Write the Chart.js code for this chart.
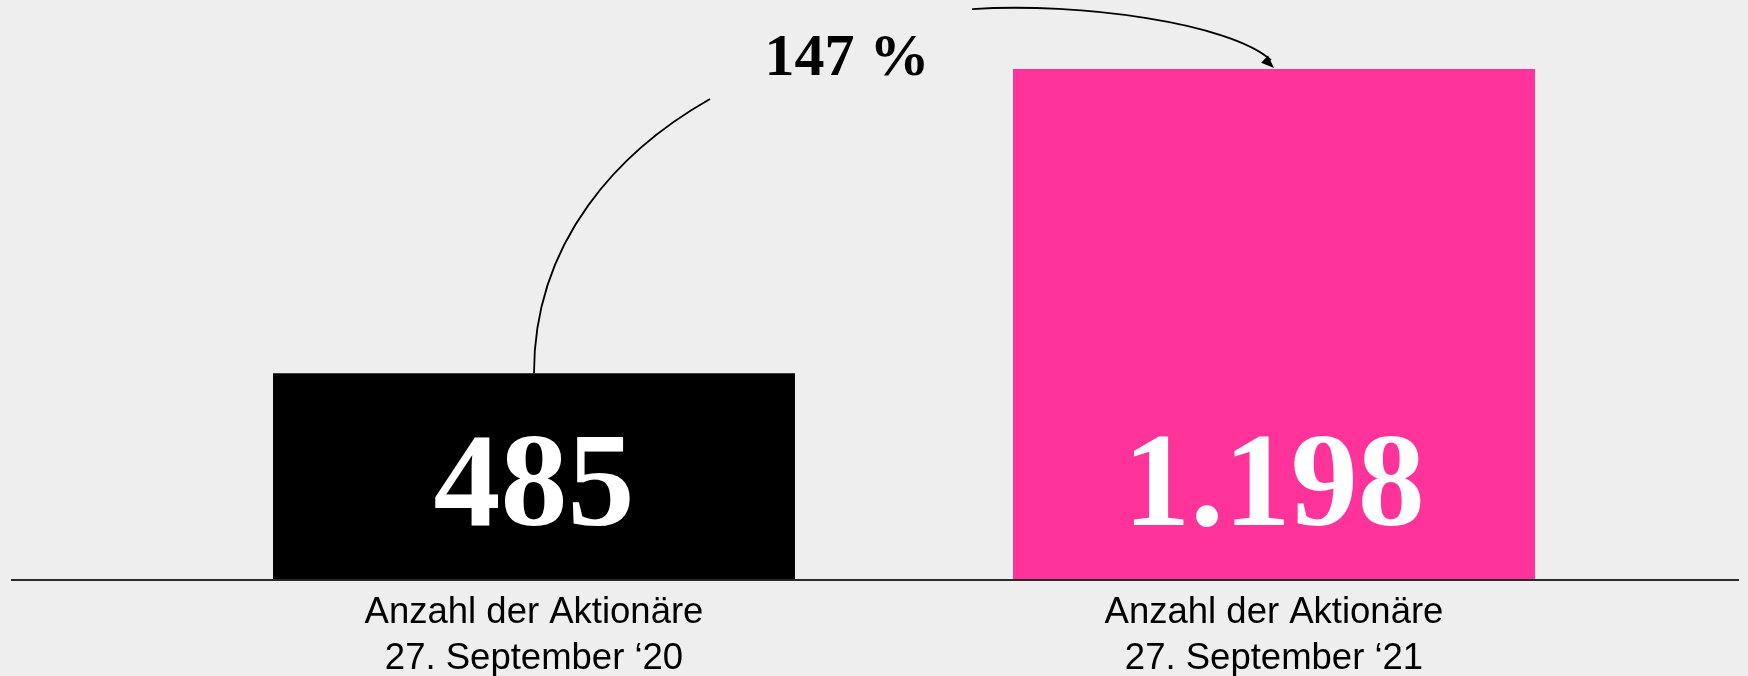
<!DOCTYPE html>
<html>
<head>
<meta charset="utf-8">
<script src="https://cdn.jsdelivr.net/npm/chart.js@4"></script>
<style>
  html, body { margin: 0; padding: 0; background: #eeeeee; }
  #wrap { width: 1748px; height: 676px; }
</style>
</head>
<body>
<div id="wrap"><canvas id="chart" width="1748" height="676"></canvas></div>
<script>
// data
const categories = [
    ['Anzahl der Aktionäre', '27. September ‘20'],
    ['Anzahl der Aktionäre', '27. September ‘21']
];
const shareholders = [485, 1198];
const barColors = ['#000000', '#ff3399'];

// German thousands separator, e.g. 1198 -> "1.198"
function formatDE(n) {
    return String(n).replace(/\B(?=(\d{3})+(?!\d))/g, '.');
}

// baseline across the whole page + value labels inside bars
const baselinePlugin = {
    id: 'baseline',
    afterDatasetsDraw(chart) {
        const ctx = chart.ctx;
        const y0 = chart.scales.y.getPixelForValue(0);
        ctx.save();
        ctx.strokeStyle = '#2a2a2a';
        ctx.lineWidth = 2;
        ctx.beginPath();
        ctx.moveTo(11, y0);
        ctx.lineTo(1739, y0);
        ctx.stroke();

        const meta = chart.getDatasetMeta(0);
        ctx.fillStyle = '#ffffff';
        ctx.font = 'bold 134px "Liberation Serif", "Times New Roman", serif';
        ctx.textAlign = 'center';
        ctx.textBaseline = 'alphabetic';
        meta.data.forEach((bar, i) => {
            ctx.fillText(formatDE(shareholders[i]), bar.x, y0 - 55);
        });
        ctx.restore();
    }
};

// growth annotation: curve from bar 1 to bar 2 with arrow and percentage
const growthPlugin = {
    id: 'growth',
    afterDraw(chart) {
        const ctx = chart.ctx;
        const meta = chart.getDatasetMeta(0);
        const a = meta.data[0], b = meta.data[1];
        const growth = Math.round((shareholders[1] / shareholders[0] - 1) * 100);

        ctx.save();
        ctx.strokeStyle = '#000';
        ctx.fillStyle = '#000';
        ctx.lineWidth = 1.8;

        // rising curve out of the first bar
        ctx.beginPath();
        ctx.moveTo(a.x, a.y);
        ctx.bezierCurveTo(a.x, a.y - 133, a.x + 86, b.y + 81, a.x + 176, b.y + 30);
        ctx.stroke();

        // curve into the second bar
        const tipX = b.x, tipY = b.y - 1;
        ctx.beginPath();
        ctx.moveTo(b.x - 302, b.y - 60);
        ctx.bezierCurveTo(b.x - 194, b.y - 67, b.x - 44, b.y - 46, tipX - 3, tipY - 8);
        ctx.stroke();

        // arrow head
        const ang = Math.atan2(38, 40);
        const len = 13, half = 5;
        ctx.beginPath();
        ctx.moveTo(tipX, tipY);
        ctx.lineTo(tipX - len * Math.cos(ang) + half * Math.sin(ang), tipY - len * Math.sin(ang) - half * Math.cos(ang));
        ctx.lineTo(tipX - len * Math.cos(ang) - half * Math.sin(ang), tipY - len * Math.sin(ang) + half * Math.cos(ang));
        ctx.closePath();
        ctx.fill();

        ctx.font = 'bold 60px "Liberation Serif", "Times New Roman", serif';
        ctx.textAlign = 'center';
        ctx.textBaseline = 'alphabetic';
        ctx.fillText(growth + ' %', a.x + 313, b.y + 6);
        ctx.restore();
    }
};

new Chart(document.getElementById('chart'), {
    type: 'bar',
    data: {
        labels: categories,
        datasets: [{
            data: shareholders,
            backgroundColor: barColors,
            borderWidth: 0,
            categoryPercentage: 1,
            barPercentage: 0.7054
        }]
    },
    options: {
        responsive: false,
        animation: false,
        layout: { padding: { left: 164, right: 104, top: 0, bottom: 0 } },
        plugins: {
            legend: { display: false },
            tooltip: { enabled: false }
        },
        scales: {
            x: {
                grid: { display: false, drawTicks: false },
                border: { display: false },
                ticks: {
                    color: '#000',
                    padding: 10,
                    maxRotation: 0,
                    autoSkip: false,
                    font: { family: '"Liberation Sans", Arial, sans-serif', size: 36.5, lineHeight: 1.26 }
                },
                afterFit(scale) { scale.height = 96; }
            },
            y: {
                display: false,
                min: 0,
                max: 1360
            }
        }
    },
    plugins: [baselinePlugin, growthPlugin]
});
</script>
</body>
</html>
